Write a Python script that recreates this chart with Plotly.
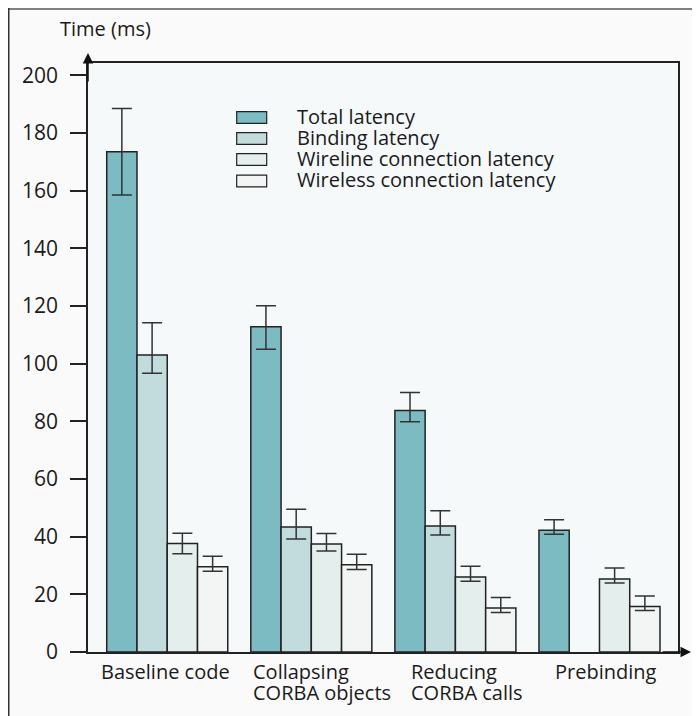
import plotly.graph_objects as go

categories = ["Baseline code", "Collapsing<br>CORBA objects", "Reducing<br>CORBA calls", "Prebinding"]
series_names = ["Total latency", "Binding latency", "Wireline connection latency", "Wireless connection latency"]

total = [173.5, 112.8, 83.8, 42.2]
total_up = [15.0, 7.3, 6.2, 3.7]
total_dn = [15.0, 7.8, 3.9, 1.4]

binding = [103.0, 43.4, 43.7, None]
binding_up = [11.2, 6.1, 5.3, 0]
binding_dn = [6.3, 4.2, 3.1, 0]

wireline = [37.6, 37.5, 26.0, 25.3]
wireline_up = [3.6, 3.6, 3.7, 3.8]
wireline_dn = [3.5, 2.5, 1.5, 1.4]

wireless = [29.6, 30.3, 15.3, 15.8]
wireless_up = [3.6, 3.6, 3.6, 3.6]
wireless_dn = [1.6, 1.7, 1.6, 1.4]

y_ticks = [0, 20, 40, 60, 80, 100, 120, 140, 160, 180, 200]

colors = ["#7bbbc1", "#c2dcdd", "#e4eeed", "#f2f5f4"]
FONT = "Open Sans"
FS = 20
TXT = "#1a1a1a"
LINE_FS = 16.2  # sets the line pitch (1.3 x) of multi-line texts


def big(s):
    return '<span style="font-size:%gpx">%s</span>' % (FS, s)


W, H = 700, 716
L, R, T, B = 80, 30, 55, 72
pw, ph = W - L - R, H - T - B


def px_x(p):
    return (p - L) / pw


def px_y(p):
    return (H - B - p) / ph


fig = go.Figure()
vals = [total, binding, wireline, wireless]
ups = [total_up, binding_up, wireline_up, wireless_up]
dns = [total_dn, binding_dn, wireline_dn, wireless_dn]
xidx = list(range(len(categories)))
for name, v, u, d, c in zip(series_names, vals, ups, dns, colors):
    fig.add_trace(go.Bar(
        x=xidx, y=v, name=name, showlegend=False,
        marker=dict(color=c, line=dict(color="#222222", width=1.5)),
        error_y=dict(type="data", symmetric=False, array=u, arrayminus=d,
                     color="#333333", thickness=1.5, width=10),
    ))

annotations = []
# x category labels: single-line centred, multi-line left aligned
for i, lab in enumerate(categories):
    lines = lab.split("<br>")
    if len(lines) == 1:
        shift = -2 if i == 0 else 7
        annotations.append(dict(
            x=i, xref="x", y=px_y(648), yref="paper", text=big(lines[0]),
            showarrow=False, xanchor="center", yanchor="top", xshift=shift,
            font=dict(family=FONT, size=LINE_FS, color=TXT),
        ))
    else:
        shift = -60 if i == 1 else -46
        annotations.append(dict(
            x=i, xref="x", y=px_y(648), yref="paper",
            text="<br>".join(big(s) for s in lines), align="left",
            showarrow=False, xanchor="left", yanchor="top", xshift=shift,
            font=dict(family=FONT, size=LINE_FS, color=TXT),
        ))
# y axis title
annotations.append(dict(
    x=px_x(97), y=px_y(20.5), xref="paper", yref="paper", text="Time (ms)",
    showarrow=False, xanchor="center", yanchor="middle",
    font=dict(family=FONT, size=FS, color=TXT),
))
# axis arrows
annotations.append(dict(
    x=px_x(683), y=0, xref="paper", yref="y", ax=-30, ay=0, text="",
    showarrow=True, arrowhead=2, arrowsize=1.4, arrowwidth=1.5, arrowcolor="#111111",
))
annotations.append(dict(
    x=0, y=px_y(45), xref="paper", yref="paper", ax=0, ay=30, text="",
    showarrow=True, arrowhead=2, arrowsize=1.4, arrowwidth=1.5, arrowcolor="#111111",
))

shapes = []
# outer frame (top and left)
shapes.append(dict(type="line", xref="paper", yref="paper",
                   x0=px_x(0), x1=px_x(710), y0=px_y(1), y1=px_y(1),
                   line=dict(color="#808080", width=2)))
shapes.append(dict(type="line", xref="paper", yref="paper",
                   x0=px_x(0.75), x1=px_x(0.75), y0=px_y(0), y1=px_y(720),
                   line=dict(color="#333333", width=1.5)))

# custom legend: swatches + one multi-line text block
leg_rows = [109.5, 130.5, 151.5, 173]
for c, cy in zip(colors, leg_rows):
    shapes.append(dict(type="rect", xref="paper", yref="paper",
                       x0=px_x(228.7), x1=px_x(258.7), y0=px_y(cy - 5.8), y1=px_y(cy + 5.8),
                       fillcolor=c, line=dict(color="#222222", width=1.2)))
annotations.append(dict(
    x=px_x(287), y=px_y(93), xref="paper", yref="paper",
    text="<br>".join(big(n) for n in series_names), align="left",
    showarrow=False, xanchor="left", yanchor="top",
    font=dict(family=FONT, size=LINE_FS, color=TXT),
))

fig.update_layout(
    width=W, height=H,
    margin=dict(l=L, r=R, t=T, b=B, pad=0),
    paper_bgcolor="#fafafa", plot_bgcolor="#f5f9fa",
    barmode="group", bargap=0.16, bargroupgap=0,
    font=dict(family=FONT, size=FS, color=TXT),
    xaxis=dict(range=[-0.55, 3.545], showticklabels=False, ticks="",
               showgrid=False, zeroline=False, showline=True, linecolor="#222222",
               linewidth=1.5, mirror=True, fixedrange=True),
    yaxis=dict(range=[0, 204.3], tickvals=y_ticks, ticks="outside", ticklen=16,
               tickwidth=1.5, tickcolor="#222222", ticklabelstandoff=8,
               showgrid=False, zeroline=False, showline=True, linecolor="#222222",
               linewidth=1.5, mirror=True,
               tickfont=dict(family=FONT, size=21, color=TXT)),
    annotations=annotations, shapes=shapes,
)

fig.write_html("out.html")
